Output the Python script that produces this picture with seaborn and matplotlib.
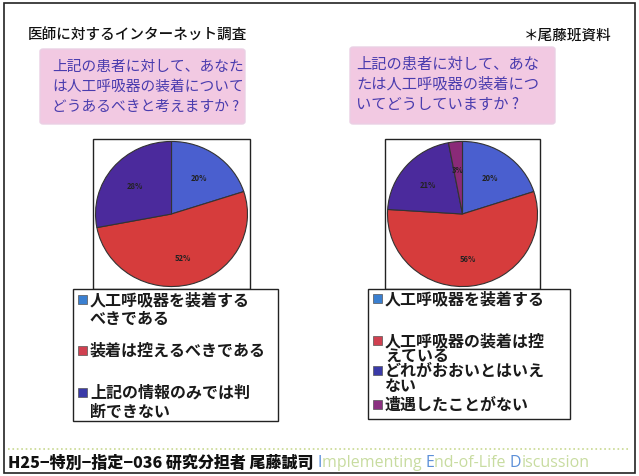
import matplotlib
matplotlib.use("Agg")
import matplotlib.pyplot as plt
import seaborn as sns
from matplotlib.patches import Rectangle, FancyBboxPatch

sns.set_theme(style="white")
plt.rcParams['font.family'] = ['Noto Sans CJK JP', 'DejaVu Sans']

# ---- data ----
title = "医師に対するインターネット調査"
source = "＊尾藤班資料"
q_left = ["上記の患者に対して、あなた", "は人工呼吸器の装着について", "どうあるべきと考えますか ?"]
q_right = ["上記の患者に対して、あな", "たは人工呼吸器の装着につ", "いてどうしていますか ?"]
left_labels = ["人工呼吸器を装着する\nべきである", "装着は控えるべきである", "上記の情報のみでは判\n断できない"]
left_values = [20, 52, 28]
right_labels = ["人工呼吸器を装着する", "人工呼吸器の装着は控\nえている", "どれがおおいとはいえ\nない", "遭遇したことがない"]
right_values = [20, 56, 21, 3]
pie_colors = ["#4a5fcf", "#d63c3c", "#4b2a9c", "#8a2a78"]
key_colors = ["#3a7fd0", "#d04050", "#3a3aa8", "#8a3080"]
footer_bold = "H25−特別−指定−036 研究分担者 尾藤誠司"

W, H = 639, 477
fig = plt.figure(figsize=(W / 100, H / 100), dpi=100)
fig.patch.set_facecolor("white")


def fx(x):
    return x / W


def fy(y):
    return 1 - y / H


def rect(x0, y0, x1, y1, **kw):
    r = Rectangle((fx(x0), fy(y1)), fx(x1 - x0), (y1 - y0) / H, transform=fig.transFigure, **kw)
    fig.add_artist(r)


# outer frame
rect(4, 4, 635, 474, fill=False, edgecolor="#222222", linewidth=1.2)

fig.text(fx(28), fy(36), title, fontsize=10.5, fontweight="medium", color="#111111", va="center", ha="left")
fig.text(fx(612), fy(36), source, fontsize=10.5, fontweight="medium", color="#111111", va="center", ha="right")

# question boxes
for (x0, y0, x1, y1), lines, fs, ys in [((40, 50, 245, 125), q_left, 10.6, [67, 87, 107]),
                                        ((350, 48, 555, 125), q_right, 11.0, [64, 84, 104])]:
    p = FancyBboxPatch((fx(x0), fy(y1)), fx(x1 - x0), (y1 - y0) / H,
                       boxstyle="round,pad=0.0,rounding_size=0.005",
                       transform=fig.transFigure, facecolor="#f2c9e2", edgecolor="#ead0e4", linewidth=1)
    fig.add_artist(p)
    for ln, yy in zip(lines, ys):
        fig.text(fx(x0 + 12 if x1 < 300 else x0 + 6), fy(yy), ln, fontsize=fs, color="#4a3cae",
                 ha="left", va="center")


def draw_pie(box, values, cols):
    x0, y0, x1, y1 = box
    rect(x0, y0, x1, y1, fill=False, edgecolor="#222222", linewidth=1.0)
    ax = fig.add_axes([fx(x0 + 1), fy(y1 - 1), fx(x1 - x0 - 2), (y1 - y0 - 2) / H])
    ax.pie(values, colors=cols, startangle=90, counterclock=False,
           autopct=lambda p: f"{p:.0f}%", pctdistance=0.62,
           textprops=dict(fontsize=5.5, color="#222222", fontweight="bold"),
           wedgeprops=dict(edgecolor="#333333", linewidth=0.8))
    ax.set_aspect("auto")
    ax.set_xlim(-1.02, 1.02)
    ax.set_ylim(-1.02, 1.02)
    ax.axis("off")


draw_pie((93, 140, 250, 290), left_values, pie_colors[:3])
draw_pie((385, 140, 540, 290), right_values, pie_colors)


def draw_key(box, labels, cols, ys, ls):
    x0, y0, x1, y1 = box
    rect(x0, y0, x1, y1, facecolor="white", edgecolor="#222222", linewidth=1.0)
    for lab, c, y in zip(labels, cols, ys):
        rect(x0 + 5, y - 5, x0 + 14, y + 4, facecolor=c, edgecolor="#555555", linewidth=0.5)
        fig.text(fx(x0 + 17), fy(y - 9), lab, fontsize=11.5, fontweight="bold", color="#1a1a1a",
                 ha="left", va="top", linespacing=ls)


draw_key((73, 290, 278, 422), left_labels, key_colors[:3], [301, 352, 394], 1.2)
draw_key((368, 290, 570, 420), right_labels, key_colors, [300, 342, 372, 406], 0.9)

# footer
fig.add_artist(plt.Line2D([fx(8), fx(630)], [fy(450), fy(450)], transform=fig.transFigure,
                          color="#c8d890", linestyle=":", linewidth=1.2))
t = fig.text(fx(8), fy(463), footer_bold, fontsize=11.5, fontweight="black", color="#111111",
             ha="left", va="center")
fig.canvas.draw()
bb = t.get_window_extent()
x = bb.x1 / W + 0.006
parts = [("I", "#5b8fd8"), ("mplementing ", "#c8dca0"), ("E", "#5b8fd8"), ("nd-of-Life ", "#c8dca0"),
         ("D", "#5b8fd8"), ("iscussion", "#c8dca0")]
for s, c in parts:
    tt = fig.text(x, fy(463), s, fontsize=11.5, color=c, ha="left", va="center",
                  family=["Open Sans", "DejaVu Sans"])
    fig.canvas.draw()
    x = tt.get_window_extent().x1 / W

fig.savefig("out.png", dpi=100, facecolor="white")
